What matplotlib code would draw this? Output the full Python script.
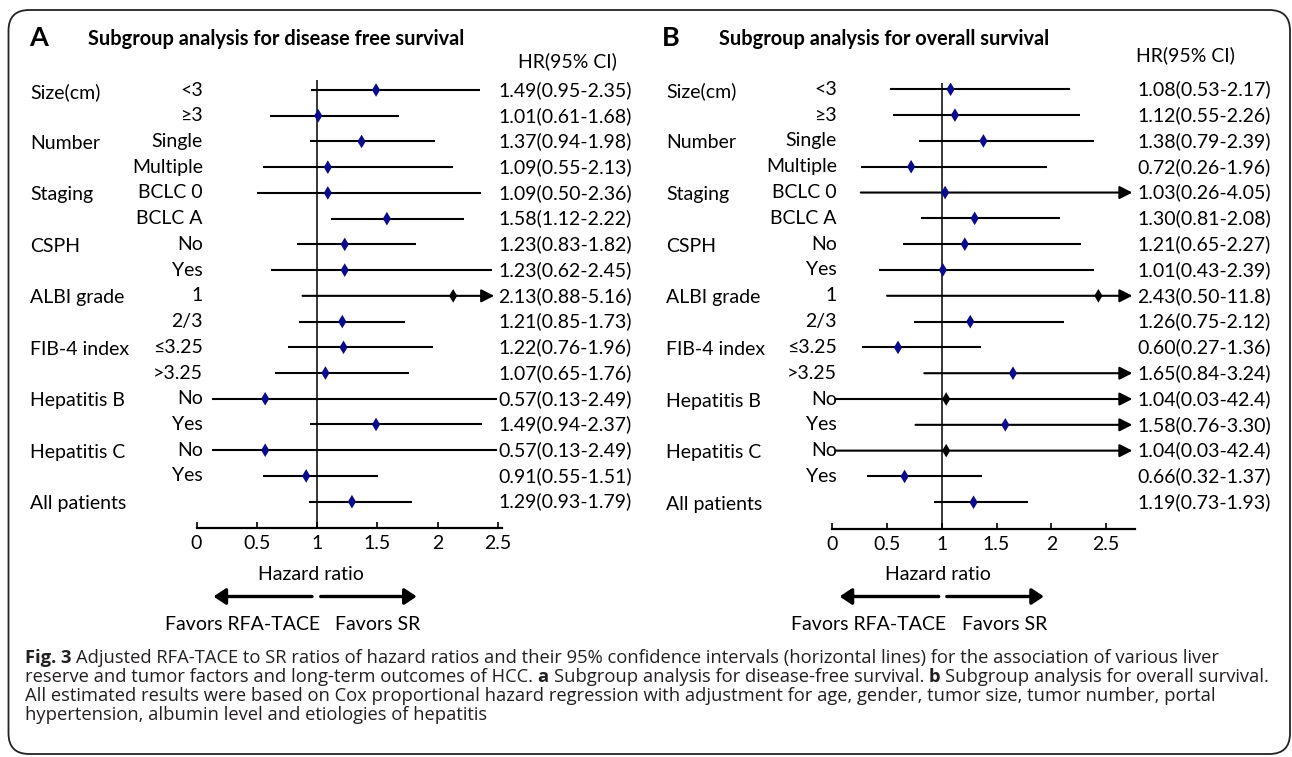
import matplotlib
matplotlib.use("Agg")
import matplotlib.pyplot as plt
from matplotlib.transforms import blended_transform_factory
from matplotlib.patches import FancyBboxPatch, FancyArrowPatch

# ---------------- data ----------------
sub_labels = ["<3", "≥3", "Single", "Multiple", "BCLC 0", "BCLC A", "No", "Yes",
              "1", "2/3", "≤3.25", ">3.25", "No", "Yes", "No", "Yes", ""]
group_labels = ["Size(cm)", "Number", "Staging", "CSPH", "ALBI grade",
                "FIB-4 index", "Hepatitis B", "Hepatitis C", "All patients"]
group_rows = [0, 2, 4, 6, 8, 10, 12, 14, 16]

# Panel A: disease free survival
dfs_hr = [1.49, 1.01, 1.37, 1.09, 1.09, 1.58, 1.23, 1.23, 2.13, 1.21, 1.22, 1.07, 0.57, 1.49, 0.57, 0.91, 1.29]
dfs_lo = [0.95, 0.61, 0.94, 0.55, 0.50, 1.12, 0.83, 0.62, 0.88, 0.85, 0.76, 0.65, 0.13, 0.94, 0.13, 0.55, 0.93]
dfs_hi = [2.35, 1.68, 1.98, 2.13, 2.36, 2.22, 1.82, 2.45, 5.16, 1.73, 1.96, 1.76, 2.49, 2.37, 2.49, 1.51, 1.79]
dfs_text = ["1.49(0.95-2.35)", "1.01(0.61-1.68)", "1.37(0.94-1.98)", "1.09(0.55-2.13)",
            "1.09(0.50-2.36)", "1.58(1.12-2.22)", "1.23(0.83-1.82)", "1.23(0.62-2.45)",
            "2.13(0.88-5.16)", "1.21(0.85-1.73)", "1.22(0.76-1.96)", "1.07(0.65-1.76)",
            "0.57(0.13-2.49)", "1.49(0.94-2.37)", "0.57(0.13-2.49)", "0.91(0.55-1.51)",
            "1.29(0.93-1.79)"]

# Panel B: overall survival (marks as drawn in the picture)
os_hr = [1.08, 1.12, 1.38, 0.72, 1.03, 1.30, 1.21, 1.01, 2.43, 1.26, 0.60, 1.65, 1.04, 1.58, 1.04, 0.66, 1.29]
os_lo = [0.53, 0.55, 0.79, 0.26, 0.26, 0.81, 0.65, 0.43, 0.50, 0.75, 0.27, 0.84, 0.03, 0.76, 0.03, 0.32, 0.93]
os_hi = [2.17, 2.26, 2.39, 1.96, 4.05, 2.08, 2.27, 2.39, 11.8, 2.12, 1.36, 3.24, 42.4, 3.30, 42.4, 1.37, 1.79]
os_text = ["1.08(0.53-2.17)", "1.12(0.55-2.26)", "1.38(0.79-2.39)", "0.72(0.26-1.96)",
           "1.03(0.26-4.05)", "1.30(0.81-2.08)", "1.21(0.65-2.27)", "1.01(0.43-2.39)",
           "2.43(0.50-11.8)", "1.26(0.75-2.12)", "0.60(0.27-1.36)", "1.65(0.84-3.24)",
           "1.04(0.03-42.4)", "1.58(0.76-3.30)", "1.04(0.03-42.4)", "0.66(0.32-1.37)",
           "1.19(0.73-1.93)"]

xticks = [0, 0.5, 1, 1.5, 2, 2.5]
xtick_labels = ["0", "0.5", "1", "1.5", "2", "2.5"]

# styles (not data)
NAVY = "#0a0a8c"
dfs_colors = [NAVY] * 17
dfs_colors[8] = "black"
os_colors = [NAVY] * 17
for i in (8, 12, 14):
    os_colors[i] = "black"

caption_lines = [
    [("Fig. 3", True), ("Adjusted RFA-TACE to SR ratios of hazard ratios and their 95% confidence intervals (horizontal lines) for the association of various liver", False)],
    [("reserve and tumor factors and long-term outcomes of HCC.", False), ("a", True),
     ("Subgroup analysis for disease-free survival.", False), ("b", True),
     ("Subgroup analysis for overall survival.", False)],
    [("All estimated results were based on Cox proportional hazard regression with adjustment for age, gender, tumor size, tumor number, portal", False)],
    [("hypertension, albumin level and etiologies of hepatitis", False)],
]

# ---------------- layout ----------------
W, H = 1292, 757
DPI = 100
plt.rcParams["font.family"] = ["Lato", "DejaVu Sans"]
FS = 14

fig = plt.figure(figsize=(W / DPI, H / DPI), dpi=DPI)
fig.patch.set_facecolor("white")


def fx(px):
    return px / W


def fy(py):
    return 1 - py / H


# outer rounded frame
frame = FancyBboxPatch((fx(8.5), fy(754)), fx(1290) - fx(8.5), fy(10) - fy(754),
                       boxstyle="round,pad=0,rounding_size=0.016",
                       transform=fig.transFigure, fill=False, lw=1.3,
                       edgecolor="#222222", mutation_aspect=W / H)
fig.add_artist(frame)

panels = [
    dict(hr=dfs_hr, lo=dfs_lo, hi=dfs_hi, txt=dfs_text, col=dfs_colors,
         left=196.5, scale=120.5, xmax=2.535, top=80, bottom=528.3,
         row0=90.0, dy=25.73, limit=2.5, cap=2.47,
         grp_x=30, sub_x=203, hr_x=498, hrhead=(518.5, 61.7),
         letter=("A", 29.5, 38), title=("Subgroup analysis for disease free survival", 87.5, 39),
         hz=310.8, fav_l=(312, 213.5), fav_r=(320.7, 416.7), fav_t=(242.5, 377.5)),
    dict(hr=os_hr, lo=os_lo, hi=os_hi, txt=os_text, col=os_colors,
         left=832.3, scale=109.5, xmax=2.76, top=83, bottom=529.3,
         row0=89.3, dy=25.81, limit=2.75, cap=2.74,
         grp_x=666.5, sub_x=837, hr_x=1137, hrhead=(1136, 55),
         letter=("B", 662.3, 38.3), title=("Subgroup analysis for overall survival", 718.8, 39.3),
         hz=937.8, fav_l=(938.7, 839.6), fav_r=(946.8, 1043.9), fav_t=(869, 1004.6)),
]

for p in panels:
    right = p["left"] + p["xmax"] * p["scale"]
    ax = fig.add_axes([fx(p["left"]), fy(p["bottom"]), fx(right) - fx(p["left"]),
                       fy(p["top"]) - fy(p["bottom"])])
    ax.set_xlim(0, p["xmax"])
    ax.set_ylim((p["bottom"] - p["row0"]) / p["dy"], (p["top"] - p["row0"]) / p["dy"])
    ax.patch.set_alpha(0)
    for s in ("top", "left", "right"):
        ax.spines[s].set_visible(False)
    ax.spines["bottom"].set_linewidth(1.6)
    ax.set_yticks([])
    ax.set_xticks(xticks)
    ax.set_xticklabels(xtick_labels)
    ax.tick_params(axis="x", direction="in", length=4.5, width=1.2, pad=5, labelsize=FS)

    ax.axvline(1, color="black", lw=1.1, zorder=1)

    rows = list(range(len(p["hr"])))
    for i in rows:
        lo, hi = p["lo"][i], p["hi"][i]
        if hi > p["limit"]:
            ax.annotate("", xy=(p["cap"], i), xytext=(lo, i),
                        arrowprops=dict(arrowstyle="-|>,head_length=0.55,head_width=0.28",
                                        mutation_scale=14, lw=1.5, color="black",
                                        shrinkA=0, shrinkB=0), zorder=2)
        else:
            ax.hlines(i, lo, hi, color="black", lw=1.5, zorder=2)
    ax.scatter(p["hr"], rows, marker="d", s=48, c=p["col"], zorder=3, linewidths=0)

    tr = blended_transform_factory(fig.transFigure, ax.transData)
    for i in rows:
        ax.text(fx(p["sub_x"]), i, sub_labels[i], transform=tr, ha="right", va="center",
                fontsize=FS, clip_on=False)
        ax.text(fx(p["hr_x"]), i, p["txt"][i], transform=tr, ha="left", va="center",
                fontsize=FS, clip_on=False)
    for g, r in zip(group_labels, group_rows):
        ax.text(fx(p["grp_x"]), r + 0.08, g, transform=tr, ha="left", va="center",
                fontsize=FS, clip_on=False)

    fig.text(fx(p["hrhead"][0]), fy(p["hrhead"][1]), "HR(95% CI)", ha="left", va="center", fontsize=FS)
    L, lx, ly = p["letter"]
    fig.text(fx(lx), fy(ly), L, ha="left", va="center", fontsize=19.5, fontweight="bold")
    T, tx, ty = p["title"]
    fig.text(fx(tx), fy(ty), T, ha="left", va="center", fontsize=14.4, fontweight="bold")

    fig.text(fx(p["hz"]), fy(574), "Hazard ratio", ha="center", va="center", fontsize=FS)
    for (x0, x1) in (p["fav_l"], p["fav_r"]):
        fig.add_artist(FancyArrowPatch(
            (fx(x0), fy(596.5)), (fx(x1), fy(596.5)), transform=fig.transFigure,
            arrowstyle="-|>,head_length=0.45,head_width=0.3", mutation_scale=16,
            lw=2.4, color="black", shrinkA=0, shrinkB=0))
    fig.text(fx(p["fav_t"][0]), fy(624), "Favors RFA-TACE", ha="center", va="center", fontsize=FS)
    fig.text(fx(p["fav_t"][1]), fy(624), "Favors SR", ha="center", va="center", fontsize=FS)

# ---------------- caption ----------------
fig.canvas.draw()
renderer = fig.canvas.get_renderer()
CAP_FAMILY = ["Open Sans", "DejaVu Sans"]
CAP_COLOR = "#231f20"


def text_w(s, size, bold):
    t = fig.text(0, 0, s, fontsize=size, fontweight="bold" if bold else "normal",
                 family=CAP_FAMILY)
    w = t.get_window_extent(renderer=renderer).width
    t.remove()
    return w


def line_w(pieces, size):
    sp = text_w("x x", size, False) - text_w("xx", size, False)
    return sum(text_w(s, size, b) for s, b in pieces) + sp * (len(pieces) - 1)


base = 10.0
cap_size = base * (1241.0 / line_w(caption_lines[1], base))
space = text_w("x x", cap_size, False) - text_w("xx", cap_size, False)
cap_y = [658, 677, 696, 715]
for pieces, yy in zip(caption_lines, cap_y):
    x = 25.0
    for s, b in pieces:
        fig.text(fx(x), fy(yy), s, fontsize=cap_size, fontweight="bold" if b else "normal",
                 family=CAP_FAMILY, color=CAP_COLOR, ha="left", va="center")
        x += text_w(s, cap_size, b) + space

fig.savefig("out.png", dpi=DPI, facecolor="white")
